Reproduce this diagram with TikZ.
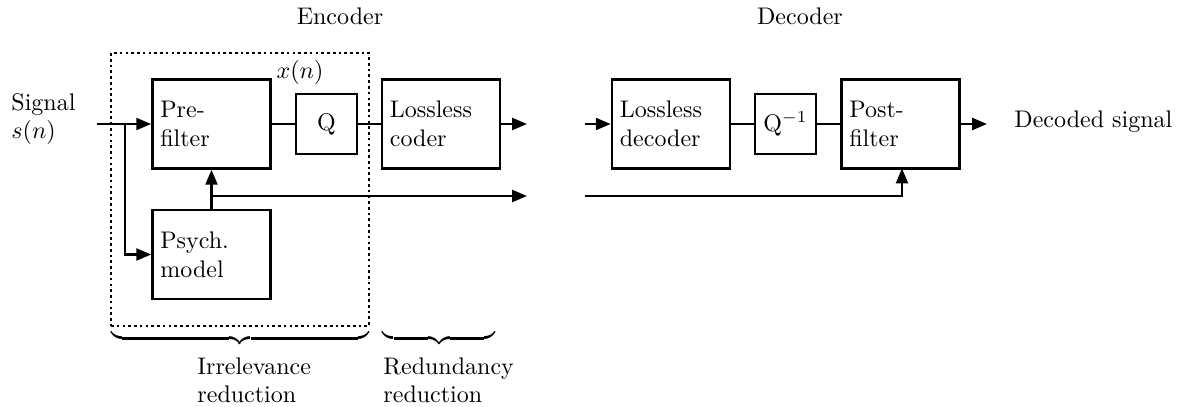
\documentclass[tikz,border=0pt]{standalone}
\usetikzlibrary{arrows.meta}
\begin{document}
\begin{tikzpicture}[x=0.41667pt,y=-0.41667pt,
  blk/.style={draw,line width=1.1pt,rectangle,minimum width=49.2pt,minimum height=37.1pt,
    inner xsep=3.2pt,text width=42.6pt,align=left},
  qblk/.style={draw,line width=1.1pt,rectangle,minimum width=25.4pt,minimum height=25pt,inner sep=0pt},
  sig/.style={line width=0.95pt},
  arr/.style={sig,-{Triangle[length=6.2pt,width=5pt]}},
  lbl/.style={inner sep=0pt}]
\useasboundingbox (0,0) rectangle (1180,406);
% encoder region
\node[draw,line width=1pt,dash pattern=on 1.1pt off 1.3pt,minimum width=107.5pt,minimum height=113.75pt,inner sep=0pt] (encbox) at (240,189.5) {};
\node[lbl] (enc) at (340,16) {Encoder};
\node[lbl] (dec) at (800,16) {Decoder};
% blocks
\node[blk] (pre) at (211.5,124) {Pre-\\filter};
\node[blk] (psy) at (211.5,254.5) {Psych.\\model};
\node[qblk] (q) at (326.5,124) {Q};
\node[blk] (lc) at (441,124) {Lossless\\coder};
\node[blk] (ld) at (671,124) {Lossless\\decoder};
\node[qblk] (qi) at (785.5,124) {Q$^{-1}$};
\node[blk] (post) at (900.5,124) {Post-\\filter};
% labels
\node[lbl,anchor=west,align=left] (sigin) at (11,119) {Signal\\$s(n)$};
\node[lbl] (xn) at (300,72) {$x(n)$};
\node[lbl,anchor=west] (decsig) at (1014,122) {Decoded signal};
% coordinates
\coordinate (in) at (97,124);
\coordinate (br) at (125,124);
\coordinate (brd) at (125,254.5);
\coordinate (tap) at (212,196);
\coordinate (sideout) at (527,196);
\coordinate (lcout) at (527,124);
\coordinate (ldin) at (585,124);
\coordinate (sidein) at (585,196);
\coordinate (corner) at (902,196);
\coordinate (postin) at (902,168.5);
\coordinate (out) at (987,124);
% connectors
\draw[arr] (in) -- (pre.west);
\draw[arr] (br) -- (brd) -- (psy.west);
\draw[arr] (psy.north) -- (pre.south);
\draw[arr] (tap) -- (sideout);
\draw[sig] (pre.east) -- (q.west);
\draw[sig] (q.east) -- (lc.west);
\draw[arr] (lc.east) -- (lcout);
\draw[arr] (ldin) -- (ld.west);
\draw[sig] (ld.east) -- (qi.west);
\draw[sig] (qi.east) -- (post.west);
\draw[arr] (post.east) -- (out);
\draw[arr] (sidein) -- (corner) -- (postin);
% braces
\node[lbl,anchor=north] (b1) at (240,329) {$\underbrace{\hbox to 107.5pt{}}$};
\node[lbl,anchor=north] (b2) at (439,329) {$\underbrace{\hbox to 46.7pt{}}$};
\node[lbl,anchor=north west,align=left] (irr) at (197,357) {Irrelevance\\reduction};
\node[lbl,anchor=north west,align=left] (red) at (383,357) {Redundancy\\reduction};
\end{tikzpicture}
\end{document}
